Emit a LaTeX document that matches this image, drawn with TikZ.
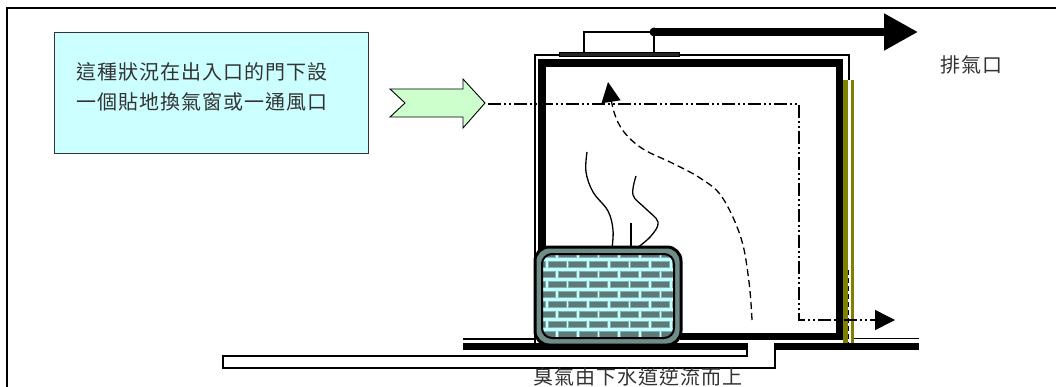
\documentclass[tikz,border=0pt]{standalone}
\usepackage{fontspec}
\newfontfamily\cjk{Noto Sans CJK TC}[LetterSpace=5]
\usetikzlibrary{arrows.meta}
\definecolor{boxcyan}{HTML}{CCFFFF}
\definecolor{arrowgreen}{HTML}{CCFFCC}
\definecolor{wallolive}{HTML}{808000}
\definecolor{brickdark}{HTML}{5E7A78}
\definecolor{mortar}{HTML}{BFFFFF}
\definecolor{blockband}{HTML}{6E8C8A}
\tikzset{
  cjktext/.style={font=\cjk\fontsize{20}{24}\selectfont, inner sep=0pt, text=black!80},
  wall/.style={line width=7.5pt, line join=miter},
  thinline/.style={line width=1.3pt},
  flowdash/.style={line width=1.3pt, dash pattern=on 7pt off 4pt},
  flowdashdot/.style={line width=1.5pt, dash pattern=on 13pt off 3pt on 2pt off 3pt on 2pt off 3pt},
  smoke/.style={line width=1.3pt},
}
\begin{document}
\begin{tikzpicture}[x=1pt, y=-1pt]
\useasboundingbox (0,0) rectangle (1056,387);

% page frame (top and left edges)
\draw[line width=2.5pt] (7,387) -- (7,8) -- (1056,8);

% note box
\node[draw=black!80, fill=boxcyan, line width=1pt, minimum width=314pt, minimum height=121pt,
      anchor=north west, inner sep=0pt] (hintbox) at (54,32) {};
\node[cjktext, anchor=west] (hint1) at (76,72) {這種狀況在出入口的門下設};
\node[cjktext, anchor=west] (hint2) at (76,102) {一個貼地換氣窗或一通風口};

% fresh-air arrow
\draw[fill=arrowgreen, line width=0.9pt] (390,89) -- (463,89) -- (463,79) -- (485,103)
  -- (463,128) -- (463,117) -- (390,117) -- (405,103) -- cycle;

% sewer pipe below the floor
\draw[line width=2pt] (747,343) -- (747,356) -- (223,356) -- (223,368) -- (775,368) -- (775,343);

% floor
\draw[line width=1.5pt] (463,339) -- (535,339);
\draw[line width=1.5pt] (852,338.5) -- (919,338.5);
\draw[line width=7pt] (463,346.5) -- (747,346.5);
\draw[line width=7pt] (775,346.5) -- (919,346.5);

% room: outer thin skin and thick walls
\draw[thinline] (535,343) -- (535,55) -- (849,55) -- (849,80);
\draw[wall] (542,250) -- (542,63) -- (839.5,63) -- (839.5,336.5) -- (680,336.5);

% door leaf on the right wall
\fill[wallolive] (843,80) rectangle (848,343);
\fill[wallolive] (851,80) rectangle (853.5,343);
\draw[line width=1pt, dash pattern=on 5pt off 3pt] (848.8,270) -- (848.8,343);

% exhaust fan on the ceiling
\draw[fill=black!85, line width=1pt] (559,53) rectangle (679,57);
\coordinate (fanout) at (654,32);
\coordinate (ventend) at (918,32);
\draw[thinline] (584,53) -- (584,32) -- (fanout) -- (654,53);
\draw[line width=8pt, -{Triangle[length=34pt,width=35pt]}] (fanout) -- (ventend);
\fill (fanout) circle (4.5pt);
\node[cjktext] (exhaust) at (971,65) {排氣口};

% brick floor drain
\draw[line width=3pt, fill=blockband, rounded corners=14pt] (535,247) rectangle (681,345);
\begin{scope}
  \clip[rounded corners=10pt] (542,254) rectangle (674,338);
  \fill[mortar] (542,254) rectangle (674,338);
  \foreach \r in {0,...,9} {
    \pgfmathsetmacro\yy{251+10*\r}
    \pgfmathsetmacro\off{mod(\r+1,2)*10.35}
    \foreach \c in {0,...,7} {
      \pgfmathsetmacro\xx{527.3+\off+20.7*\c}
      \fill[brickdark, draw=brickdark!60!mortar, line width=0.8pt] (\xx,\yy) rectangle ++(18,6.5);
    }
  }
\end{scope}
\draw[line width=2pt, rounded corners=10pt] (542,254) rectangle (674,338);

% odour rising from the drain
\draw[smoke] plot[smooth, tension=0.6] coordinates {(587,152) (586,172) (593,192) (608,211) (613,230) (612,248)};
\draw[smoke] plot[smooth, tension=0.6] coordinates {(636,176) (633,195) (645,208) (658,222) (651,236) (637,248)};
\draw[smoke] (631,223) -- (631,248);

% air paths
\draw[flowdash, -{Triangle[length=20pt,width=19pt]}] plot[smooth, tension=0.6] coordinates
  {(752,320) (749,282) (741,238) (722,197) (700,178) (672,163) (643,149) (624,132) (614,112) (608,82)};
\coordinate (airin) at (488,104);
\coordinate (airout) at (895,320);
\draw[flowdashdot, -{Triangle[length=20pt,width=20pt]}] (airin) -- (799,104) -- (799,320) -- (airout);

\node[cjktext] (sewer) at (638,376.5) {臭氣由下水道逆流而上};
\end{tikzpicture}
\end{document}
